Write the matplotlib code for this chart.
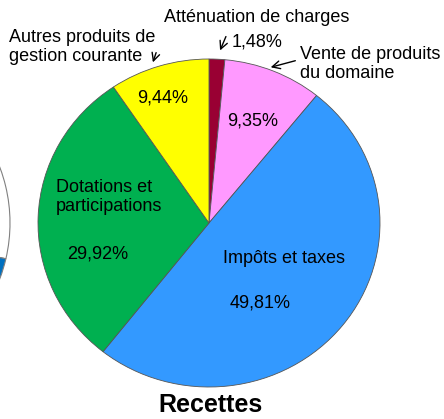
import matplotlib.pyplot as plt

plt.rcParams['font.family'] = ['Liberation Sans', 'DejaVu Sans']

# recettes
labels = ["Atténuation de charges", "Vente de produits\ndu domaine", "Impôts et taxes",
          "Dotations et\nparticipations", "Autres produits de\ngestion courante"]
shares = [1.48, 9.35, 49.81, 29.92, 9.44]
colors = ["#990033", "#FF99FF", "#3399FF", "#00B050", "#FFFF00"]

# neighbouring chart, only its right edge is visible
left_shares = [28.5, 8.0, 63.5]
left_colors = ["white", "#0070C0", "white"]

W, H = 444, 419
fig = plt.figure(figsize=(W / 100, H / 100), dpi=100)
ax = fig.add_axes([0, 0, 1, 1])

# the pie is slightly wider than tall in the reference
rx, ry = 171, 164
k = rx / ry
cx, cy = 209, (H - 223) * k

ax.pie(left_shares, colors=left_colors, startangle=90, counterclock=False,
       center=(10 - rx, cy), radius=rx,
       wedgeprops=dict(edgecolor="#808080", linewidth=0.8))
ax.pie(shares, colors=colors, startangle=90, counterclock=False,
       center=(cx, cy), radius=rx,
       wedgeprops=dict(edgecolor="#555555", linewidth=0.6))

ax.set_aspect("auto")
ax.set_xlim(0, W)
ax.set_ylim(0, H * k)
ax.axis("off")

fs = 13
def txt(x, y, s, **kw):
    kw.setdefault("va", "center")
    ax.text(x, (H - y) * k, s, fontsize=fs, **kw)

# inside labels
txt(163, 98, "9,44%", ha="center")
txt(253, 121, "9,35%", ha="center")
txt(284, 258, "Impôts et taxes", ha="center")
txt(260, 303, "49,81%", ha="center")
txt(56, 197, labels[3], ha="left", linespacing=1.1)
txt(98, 254, "29,92%", ha="center")

# outside labels
txt(257, 18, labels[0], ha="center")
txt(257, 42, "1,48%", ha="center")
txt(9, 47, labels[4], ha="left", linespacing=1.1)
txt(300, 64, labels[1], ha="left", linespacing=1.1)

arrow = dict(arrowstyle="->", color="black", lw=1, mutation_scale=14)
ax.annotate("", xy=(219, (H - 53) * k), xytext=(227, (H - 34) * k), arrowprops=arrow)
ax.annotate("", xy=(152, (H - 65) * k), xytext=(157, (H - 50) * k), arrowprops=arrow)
ax.annotate("", xy=(268, (H - 68) * k), xytext=(298, (H - 60) * k), arrowprops=arrow)

ax.text(210, (H - 412) * k, "Recettes", fontsize=18, fontweight="bold",
        ha="center", va="baseline")

fig.savefig("out.png", dpi=100)
